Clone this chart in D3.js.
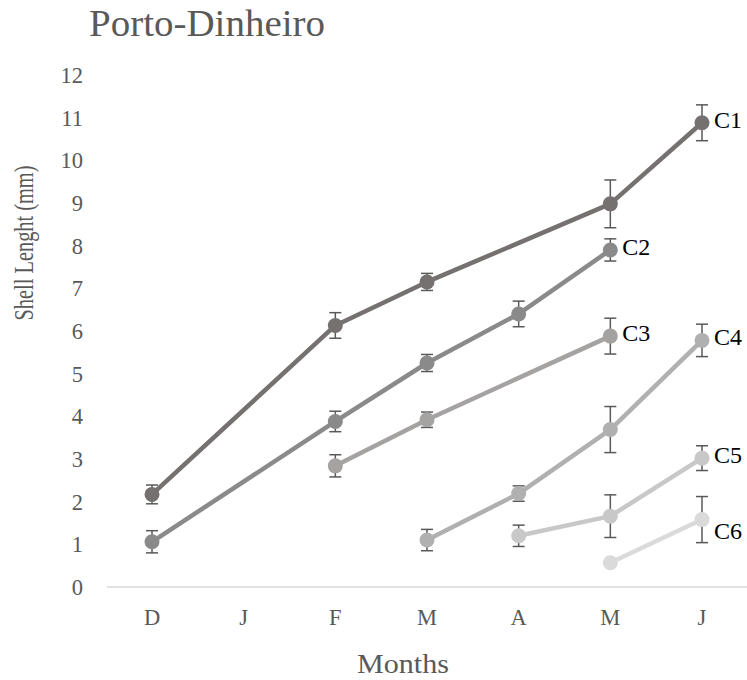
<!DOCTYPE html>
<html>
<head>
<meta charset="utf-8">
<script src="https://cdn.jsdelivr.net/npm/d3@7"></script>
<style>
  body { margin: 0; background: #fff; }
  svg { display: block; }
</style>
</head>
<body>
<svg width="747" height="680"></svg>
<script>
// months on the x axis (two M and two J, so keep an index)
const months = ['D', 'J', 'F', 'M', 'A', 'M', 'J']
const cohorts = ['C1', 'C2', 'C3', 'C4', 'C5', 'C6']

// mean shell length per month index (null = not sampled)
const c1 = [2.17, null, 6.13, 7.15, null, 8.98, 10.88]
const c2 = [1.06, null, 3.88, 5.25, 6.40, 7.90, null]
const c3 = [null, null, 2.84, 3.92, null, 5.88, null]
const c4 = [null, null, null, 1.10, 2.19, 3.69, 5.78]
const c5 = [null, null, null, null, 1.20, 1.66, 3.02]
const c6 = [null, null, null, null, null, 0.57, 1.58]

// error (+/-)
const e1 = [0.22, null, 0.30, 0.20, null, 0.56, 0.42]
const e2 = [0.26, null, 0.24, 0.20, 0.30, 0.26, null]
const e3 = [null, null, 0.26, 0.18, null, 0.42, null]
const e4 = [null, null, null, 0.25, 0.18, 0.54, 0.38]
const e5 = [null, null, null, null, 0.25, 0.50, 0.29]
const e6 = [null, null, null, null, null, 0, 0.54]

const yTicks = d3.range(0, 13)
const colors = ['#767171', '#8a8a8a', '#a5a2a2', '#b0b0b0', '#c8c8c8', '#dadada']

const values = [c1, c2, c3, c4, c5, c6]
const errors = [e1, e2, e3, e4, e5, e6]

const svg = d3.select('svg')
const font = "'Liberation Serif', 'DejaVu Serif', serif"

const x = d3.scalePoint()
  .domain(d3.range(months.length))
  .range([152, 702])
const y = d3.scaleLinear()
  .domain([0, 12])
  .range([587, 75])

// title
svg.append('text')
  .attr('x', 89).attr('y', 36)
  .attr('font-family', font).attr('font-size', 38)
  .attr('fill', '#595959')
  .attr('textLength', 236).attr('lengthAdjust', 'spacingAndGlyphs')
  .text('Porto-Dinheiro')

// y tick labels
svg.append('g').selectAll('text')
  .data(yTicks)
  .join('text')
  .attr('x', 83)
  .attr('y', d => y(d))
  .attr('dy', '0.35em')
  .attr('text-anchor', 'end')
  .attr('font-family', font).attr('font-size', 22.5)
  .attr('fill', '#595959')
  .text(d => d)

// baseline
svg.append('line')
  .attr('x1', 107).attr('x2', 747)
  .attr('y1', y(0)).attr('y2', y(0))
  .attr('stroke', '#d9d9d9').attr('stroke-width', 1.5)

// x tick labels
svg.append('g').selectAll('text')
  .data(months)
  .join('text')
  .attr('x', (d, i) => x(i))
  .attr('y', 625)
  .attr('text-anchor', 'middle')
  .attr('font-family', font).attr('font-size', 22.5)
  .attr('fill', '#595959')
  .text(d => d)

// axis titles
svg.append('text')
  .attr('x', 403).attr('y', 673)
  .attr('text-anchor', 'middle')
  .attr('font-family', font).attr('font-size', 27)
  .attr('fill', '#595959')
  .attr('textLength', 92).attr('lengthAdjust', 'spacingAndGlyphs')
  .text('Months')

svg.append('text')
  .attr('transform', 'translate(33,243) rotate(-90)')
  .attr('text-anchor', 'middle')
  .attr('font-family', font).attr('font-size', 27)
  .attr('fill', '#595959')
  .attr('textLength', 155).attr('lengthAdjust', 'spacingAndGlyphs')
  .text('Shell Lenght (mm)')

const line = d3.line()
  .x(d => x(d.i))
  .y(d => y(d.v))

const series = cohorts.map((name, k) => ({
  name,
  color: colors[k],
  pts: values[k].map((v, i) => ({ i, v, e: errors[k][i] }))
}))

// lines: connect sampled points, skipping gaps
series.forEach(s => {
  const pts = s.pts.filter(p => p.v != null)
  svg.append('path')
    .datum(pts)
    .attr('fill', 'none')
    .attr('stroke', s.color)
    .attr('stroke-width', 4.5)
    .attr('stroke-linejoin', 'round')
    .attr('d', line)
})

// error bars
series.forEach(s => {
  const pts = s.pts.filter(p => p.v != null && p.e)
  const g = svg.append('g')
    .attr('stroke', '#595959').attr('stroke-width', 1.5)
  g.selectAll('line.v').data(pts).join('line')
    .attr('x1', d => x(d.i)).attr('x2', d => x(d.i))
    .attr('y1', d => y(d.v + d.e)).attr('y2', d => y(d.v - d.e))
  g.selectAll('line.t').data(pts).join('line')
    .attr('x1', d => x(d.i) - 6).attr('x2', d => x(d.i) + 6)
    .attr('y1', d => y(d.v + d.e)).attr('y2', d => y(d.v + d.e))
  g.selectAll('line.b').data(pts).join('line')
    .attr('x1', d => x(d.i) - 6).attr('x2', d => x(d.i) + 6)
    .attr('y1', d => y(d.v - d.e)).attr('y2', d => y(d.v - d.e))
})

// markers
series.forEach(s => {
  svg.append('g').selectAll('circle')
    .data(s.pts.filter(p => p.v != null))
    .join('circle')
    .attr('cx', d => x(d.i))
    .attr('cy', d => y(d.v))
    .attr('r', 7.5)
    .attr('fill', s.color)
})

// series labels next to the last point
const labelOffset = { C1: 0, C2: 0, C3: 0, C4: 0, C5: 0, C6: 15 }
series.forEach(s => {
  const last = s.pts.filter(p => p.v != null).pop()
  svg.append('text')
    .attr('x', x(last.i) + 12)
    .attr('y', y(last.v) + labelOffset[s.name])
    .attr('dy', '0.2em')
    .attr('font-family', font).attr('font-size', 24)
    .attr('fill', '#000')
    .text(s.name)
})
</script>
</body>
</html>
